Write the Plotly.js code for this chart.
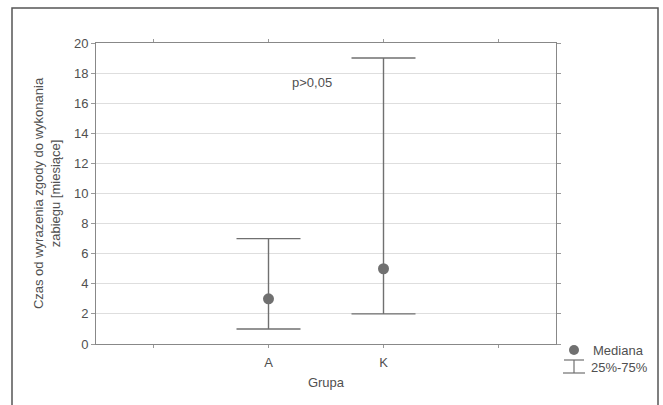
<!DOCTYPE html>
<html>
<head>
<meta charset="utf-8">
<script src="https://cdn.plot.ly/plotly-3.0.1.min.js"></script>
<style>html,body{margin:0;padding:0;background:#fff;}#chart{width:663px;height:405px;}</style>
</head>
<body>
<div id="chart"></div>
<script>
const groups = ['A', 'K'];
const medians = [3, 5];
const q25 = [1, 2];
const q75 = [7, 19];
const yTicks = [0, 2, 4, 6, 8, 10, 12, 14, 16, 18, 20];
const legendLabels = ['Mediana', '25%-75%'];
const pText = 'p>0,05';

const gray = '#707070';
const textCol = '#505050';
const font = 'Liberation Sans, Arial, sans-serif';

const xIdx = groups.map((g, i) => i);

const trace = {
  x: xIdx,
  y: medians,
  type: 'scatter',
  mode: 'markers',
  marker: {color: gray, size: 11},
  error_y: {
    type: 'data', symmetric: false,
    array: q75.map((v, i) => v - medians[i]),
    arrayminus: q25.map((v, i) => medians[i] - v),
    color: gray, thickness: 1.4, width: 32
  },
  showlegend: false,
  hoverinfo: 'skip'
};

const L = 96, R = 556, T = 43, B = 344;
const px = v => (v - L) / (R - L);
const py = v => (B - v) / (B - T);

const layout = {
  width: 663, height: 405,
  margin: {l: L, r: 663 - R, t: T, b: 405 - B},
  paper_bgcolor: '#ffffff',
  plot_bgcolor: '#ffffff',
  font: {family: font, color: textCol, size: 13},
  xaxis: {
    range: [-1.5, 2.5],
    tickmode: 'array',
    tickvals: [-1].concat(xIdx, [groups.length]),
    ticktext: [''].concat(groups, ['']),
    ticks: 'outside', ticklen: 3, tickcolor: '#999',
    ticklabelstandoff: 3,
    showline: true, linecolor: '#888', linewidth: 1, mirror: 'ticks',
    showgrid: false, zeroline: false,
    tickfont: {size: 13, color: textCol},
    title: {text: 'Grupa', font: {size: 13, color: textCol}, standoff: 9}
  },
  yaxis: {
    range: [0, 20],
    tickmode: 'array', tickvals: yTicks,
    ticks: 'outside', ticklen: 4, tickcolor: '#999',
    showline: true, linecolor: '#888', linewidth: 1, mirror: 'ticks',
    showgrid: true, gridcolor: '#dedede', gridwidth: 1,
    zeroline: false,
    tickfont: {size: 13, color: textCol},
    title: {text: 'Czas od wyrazenia zgody do wykonania<br>zabiegu [miesiące]', font: {size: 13, color: textCol}, standoff: 10}
  },
  annotations: [
    {x: 0.38, y: 17.35, xref: 'x', yref: 'y', text: pText, showarrow: false,
     font: {size: 13, color: textCol}},
    {x: px(591), y: py(350), xref: 'paper', yref: 'paper', text: legendLabels[0], showarrow: false,
     xanchor: 'left', yanchor: 'middle', font: {size: 13, color: textCol}},
    {x: px(589), y: py(367), xref: 'paper', yref: 'paper', text: legendLabels[1], showarrow: false,
     xanchor: 'left', yanchor: 'middle', font: {size: 13, color: textCol}}
  ],
  shapes: [
    {type: 'rect', xref: 'paper', yref: 'paper', x0: px(12), x1: px(658), y0: py(420), y1: py(8),
     line: {color: '#555', width: 1.5}, fillcolor: 'rgba(0,0,0,0)', layer: 'below'},
    {type: 'circle', xref: 'paper', yref: 'paper', xsizemode: 'pixel', ysizemode: 'pixel',
     xanchor: px(574), yanchor: py(350), x0: -5, x1: 5, y0: -5, y1: 5,
     fillcolor: gray, line: {width: 0}},
    {type: 'line', xref: 'paper', yref: 'paper', x0: px(574), x1: px(574), y0: py(360), y1: py(373), line: {color: gray, width: 1.2}},
    {type: 'line', xref: 'paper', yref: 'paper', x0: px(564), x1: px(584), y0: py(360), y1: py(360), line: {color: gray, width: 1.2}},
    {type: 'line', xref: 'paper', yref: 'paper', x0: px(563), x1: px(585), y0: py(373), y1: py(373), line: {color: gray, width: 1.2}}
  ],
  showlegend: false
};

Plotly.newPlot('chart', [trace], layout, {displayModeBar: false, staticPlot: true});
</script>
</body>
</html>
